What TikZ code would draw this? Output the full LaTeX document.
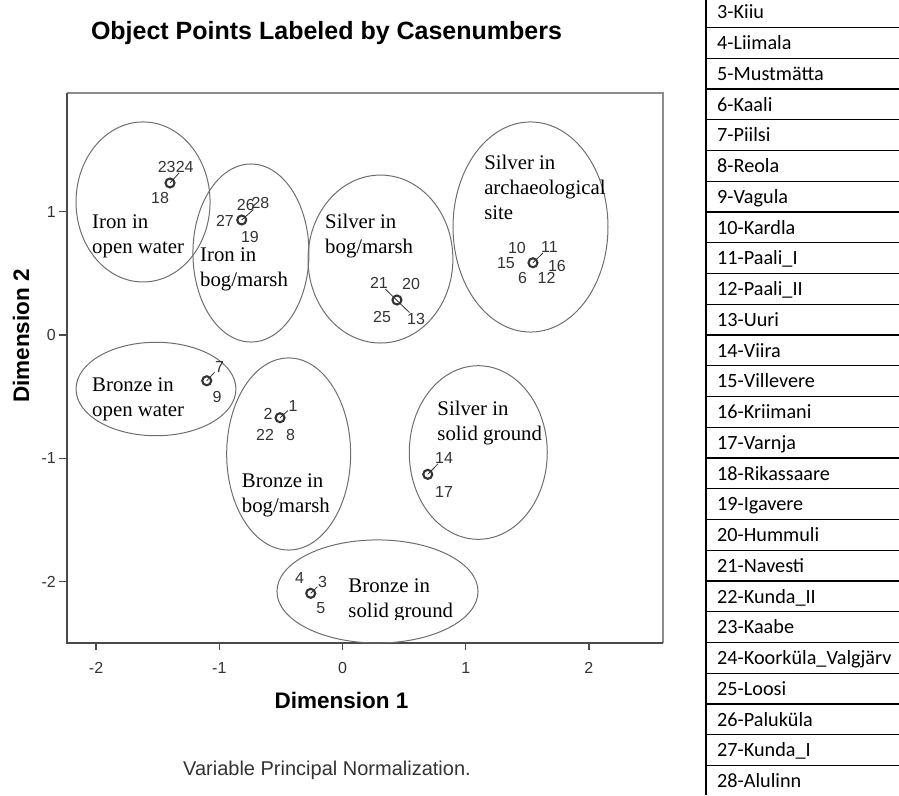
\documentclass[tikz,border=0pt]{standalone}
\usepackage{fontspec}
\setmainfont{Liberation Serif}
\newfontfamily\arialfont{Liberation Sans}
\newfontfamily\calibrifont{Carlito}
\usetikzlibrary{positioning}
\usepackage{xcolor}
\definecolor{mgray}{HTML}{6E6E6E}
\definecolor{mdark}{HTML}{333333}
\definecolor{mframe}{HTML}{4A4A4A}
\definecolor{mlight}{HTML}{8C8C8C}
\tikzstyle{grp}=[draw=mgray, line width=1]
\tikzstyle{obj}=[circle, draw=mdark, line width=2.1, minimum size=9pt, inner sep=0]
\tikzstyle{num}=[font=\arialfont\fontsize{16}{16}\selectfont, text=mdark, inner sep=0.5pt]
\tikzstyle{lead}=[mdark, line width=0.8]
\tikzstyle{grptext}=[font=\fontsize{20.8}{25}\selectfont, align=left, anchor=west, inner sep=0]
\tikzstyle{ticklab}=[font=\arialfont\fontsize{16}{16}\selectfont, text=mdark, inner sep=0]
\tikzstyle{rowtext}=[font=\calibrifont\fontsize{20.2}{20.2}\selectfont, anchor=base west, inner sep=0]

\begin{document}
\begin{tikzpicture}[x=1pt, y=-1pt]
    \useasboundingbox (0,0) rectangle (899,795);
    \node[font=\arialfont\bfseries\fontsize{25}{25}\selectfont, anchor=base] (title) at (326.5,39) {Object Points Labeled by Casenumbers};
    \node[font=\arialfont\bfseries\fontsize{22.5}{22.5}\selectfont, anchor=base] (dim1) at (341.5,708) {Dimension 1};
    \node[font=\arialfont\bfseries\fontsize{22.5}{22.5}\selectfont, rotate=90] (dim2) at (21,336) {Dimension 2};
    \node[font=\arialfont\fontsize{20}{20}\selectfont, text=mdark, anchor=base] (norm) at (327,775) {Variable Principal Normalization.};

    \begin{scope}[shift={(342.5,335)}, x=123.2pt, y=123.3pt]
    \draw[mlight, line width=2] (-2.236,1.963) -- (2.601,1.963) -- (2.601,-2.498);
    \draw[mframe, line width=1.6] (-2.236,1.963) -- (-2.236,-2.498) -- (2.601,-2.498);
    \foreach \k in {-2,...,2} {
        \draw[mframe, line width=1.4] (\k,-2.498) -- ++(0,-7pt);
        \node[ticklab, yshift=-25pt] (tx\k) at (\k,-2.498) {\k};
    }
    \foreach \k in {-2,...,1} {
        \draw[mframe, line width=1.4] (-2.236,\k) -- ++(-8pt,0);
        \node[ticklab, anchor=east, xshift=-11pt] (ty\k) at (-2.236,\k) {\k};
    }

    \draw[grp] (-1.619,1.079) ellipse [x radius=0.544, y radius=0.649];
    \draw[grp] (-0.743,0.665) ellipse [x radius=0.471, y radius=0.722];
    \draw[grp] (0.308,0.616) ellipse [x radius=0.588, y radius=0.681];
    \draw[grp] (1.526,0.876) ellipse [x radius=0.629, y radius=0.852];
    \draw[grp] (-1.514,-0.438) ellipse [x radius=0.649, y radius=0.379];
    \draw[grp] (-0.437,-0.965) ellipse [x radius=0.503, y radius=0.779];
    \draw[grp] (1.102,-0.953) ellipse [x radius=0.560, y radius=0.704];
    \draw[grp] (0.284,-2.080) ellipse [x radius=0.816, y radius=0.418];

    \node[grptext] (ironW) at (-2.033,0.803) {Iron in\\open water};
    \node[grptext] (ironB) at (-1.157,0.534) {Iron in\\bog/marsh};
    \node[grptext] (silvB) at (-0.142,0.803) {Silver in\\bog/marsh};
    \node[grptext] (silvA) at (1.149,1.194) {Silver in\\archaeological\\site};
    \node[grptext] (bronW) at (-2.033,-0.521) {Bronze in\\open water};
    \node[grptext] (bronB) at (-0.818,-1.302) {Bronze in\\bog/marsh};
    \node[grptext] (silvS) at (0.769,-0.710) {Silver in\\solid ground};
    \begin{scope}
        \clip (-2.236,1.963) rectangle (2.601,-2.307);
        \node[grptext] (bronS) at (0.047,-2.156) {Bronze in\\solid ground};
    \end{scope}

    % object points
    \node[obj] (mA) at (-1.400,1.233) {};
    \node[num] (l23) at (-1.427,1.365) {23};
    \node[num] (l24) at (-1.281,1.365) {24};
    \node[num] (l18) at (-1.481,1.109) {18};
    \draw[lead] (mA.center) -- (l24);

    \node[obj] (mB) at (-0.818,0.933) {};
    \node[num] (l26) at (-0.785,1.054) {26};
    \node[num] (l28) at (-0.666,1.068) {28};
    \node[num] (l27) at (-0.954,0.927) {27};
    \node[num] (l19) at (-0.751,0.797) {19};
    \draw[lead] (mB.center) -- (l28);

    \node[obj] (mC) at (0.442,0.284) {};
    \node[num] (l21) at (0.296,0.422) {21};
    \node[num] (l20) at (0.556,0.414) {20};
    \node[num] (l25) at (0.321,0.146) {25};
    \node[num] (l13) at (0.597,0.130) {13};
    \draw[lead] (l21) -- (l13);

    \node[obj] (mD) at (1.546,0.586) {};
    \node[num] (l10) at (1.416,0.706) {10};
    \node[num] (l11) at (1.680,0.716) {11};
    \node[num] (l15) at (1.327,0.584) {15};
    \node[num] (l16) at (1.741,0.562) {16};
    \node[num] (l6) at (1.461,0.462) {6};
    \node[num] (l12) at (1.656,0.462) {12};
    \draw[lead] (mD.center) -- (l11);

    \node[obj] (mE) at (-1.102,-0.371) {};
    \node[num] (l7) at (-0.997,-0.257) {7};
    \node[num] (l9) at (-1.019,-0.505) {9};
    \draw[lead] (mE.center) -- (l7);

    \node[obj] (mF) at (-0.507,-0.671) {};
    \node[num] (l2) at (-0.605,-0.641) {2};
    \node[num] (l1) at (-0.402,-0.576) {1};
    \node[num] (l22) at (-0.629,-0.811) {22};
    \node[num] (l8) at (-0.422,-0.811) {8};
    \draw[lead] (mF.center) -- (l1);

    \node[obj] (mG) at (-0.258,-2.095) {};
    \node[num] (l4) at (-0.349,-1.971) {4};
    \node[num] (l3) at (-0.162,-2.001) {3};
    \node[num] (l5) at (-0.175,-2.214) {5};
    \draw[lead] (mG.center) -- (l3);

    \node[obj] (mH) at (0.692,-1.130) {};
    \node[num] (l14) at (0.824,-0.995) {14};
    \node[num] (l17) at (0.824,-1.271) {17};
    \draw[lead] (mH.center) -- (l14);
    \end{scope}

    % site table
    \draw[line width=1.1] (706,0) -- (706,795);
    \foreach \k in {0,...,24}
        \draw[line width=1.1] (706,{27.5+30.75*\k}) -- (899,{27.5+30.75*\k});
    \foreach \n/\site in {3/Kiiu, 4/Liimala, 5/Mustmätta, 6/Kaali, 7/Piilsi, 8/Reola, 9/Vagula, 10/Kardla, 11/Paali\_I, 12/Paali\_II, 13/Uuri, 14/Viira, 15/Villevere, 16/Kriimani, 17/Varnja, 18/Rikassaare, 19/Igavere, 20/Hummuli, 21/Navesti, 22/Kunda\_II, 23/Kaabe, 24/Koorküla\_Valgjärv, 25/Loosi, 26/Paluküla, 27/Kunda\_I, 28/Alulinn}
        \node[rowtext] (r\n) at (717,{18.8+30.75*(\n-3)}) {\n-\site};
\end{tikzpicture}
\end{document}
